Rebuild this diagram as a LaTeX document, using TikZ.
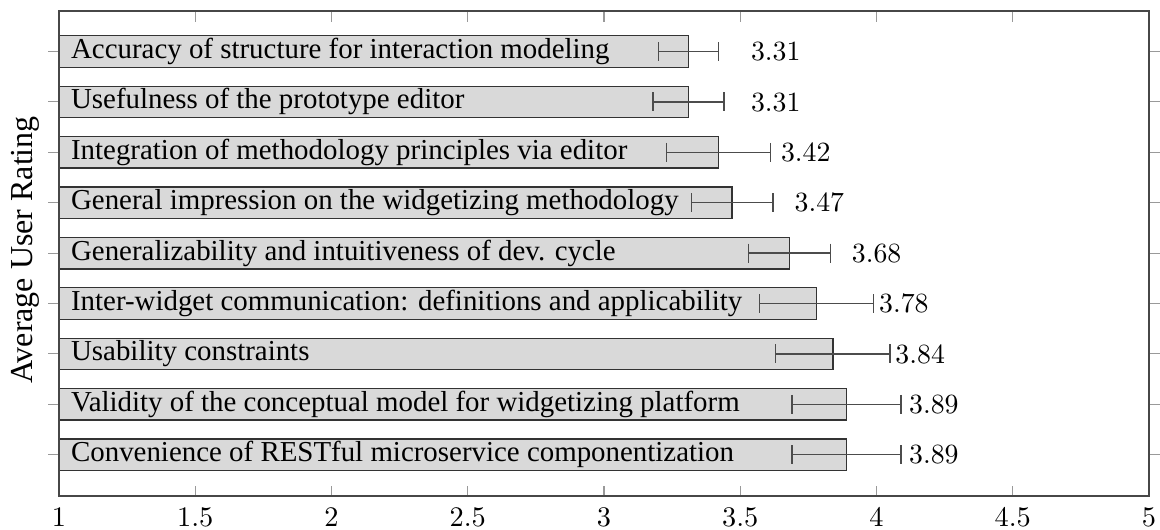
\documentclass[tikz,border=0pt]{standalone}
\usepackage{fontspec}
\setmainfont{Liberation Serif}
\newfontfamily\numfont{Latin Modern Roman}
\begin{document}
\begin{tikzpicture}[x=0.346pt,y=-0.346pt,
  frame/.style={draw=black!72,line width=0.45pt},
  tickmark/.style={draw=black!40,line width=0.4pt},
  barbox/.style={fill=black!15,draw=black!80,line width=0.45pt},
  errbar/.style={draw=black!70,line width=0.45pt},
  barlabel/.style={anchor=base west,inner sep=0pt,font=\fontsize{10}{12}\selectfont},
  vallabel/.style={anchor=base west,inner sep=0pt,font=\numfont\fontsize{9.62}{11}\selectfont},
  ticklabel/.style={anchor=base,inner sep=0pt,font=\numfont\fontsize{9.8}{11}\selectfont},
  axlabel/.style={anchor=base,rotate=90,inner sep=0pt,font=\fontsize{11.07}{13}\selectfont}]
\useasboundingbox (0,0) rectangle (1160,529);
% ticks on the value axis (inside) and category axis (outside)
\foreach \t in {1,1.5,2,2.5,3,3.5,4,4.5,5}{
  \pgfmathsetmacro\tx{59+(\t-1)*272.5}
  \draw[tickmark] (\tx,11) -- (\tx,21.5);
  \draw[tickmark] (\tx,496) -- (\tx,485.5);
  \node[ticklabel] (tl\t) at (\tx,526) {\t};
}
\foreach \i in {1,...,9}{
  \pgfmathsetmacro\yc{51.5+(\i-1)*50.4}
  \draw[tickmark] (48,\yc) -- (59,\yc);
  \draw[tickmark] (1149,\yc) -- (1160,\yc);
}
% bars, error bars and labels
\foreach \i/\v/\e/\t in {
  1/3.31/0.11/Accuracy of structure for interaction modeling,
  2/3.31/0.13/Usefulness of the prototype editor,
  3/3.42/0.19/Integration of methodology principles via editor,
  4/3.47/0.15/General impression on the widgetizing methodology,
  5/3.68/0.15/Generalizability and intuitiveness of dev. cycle,
  6/3.78/0.21/Inter-widget communication: definitions and applicability,
  7/3.84/0.21/Usability constraints,
  8/3.89/0.20/Validity of the conceptual model for widgetizing platform,
  9/3.89/0.20/Convenience of RESTful microservice componentization}{
  \pgfmathsetmacro\yc{51.5+(\i-1)*50.4}
  \pgfmathsetmacro\xe{59+(\v-1)*272.5}
  \pgfmathsetmacro\el{\xe-\e*272.5}
  \pgfmathsetmacro\er{\xe+\e*272.5}
  \path[barbox] (59,\yc-15.75) rectangle (\xe,\yc+15.75);
  \draw[errbar] (\el,\yc) -- (\er,\yc);
  \draw[errbar] (\el,\yc-9.5) -- (\el,\yc+9.5);
  \draw[errbar] (\er,\yc-9.5) -- (\er,\yc+9.5);
  \node[barlabel] (lab\i) at (70.5,\yc+7) {\t};
  \node[vallabel] (val\i) at (\xe+62,\yc+9.2) {\v};
}
\draw[frame] (59,11) rectangle (1149,496);
\node[axlabel] (ylab) at (33,250) {Average User Rating};
\end{tikzpicture}
\end{document}
